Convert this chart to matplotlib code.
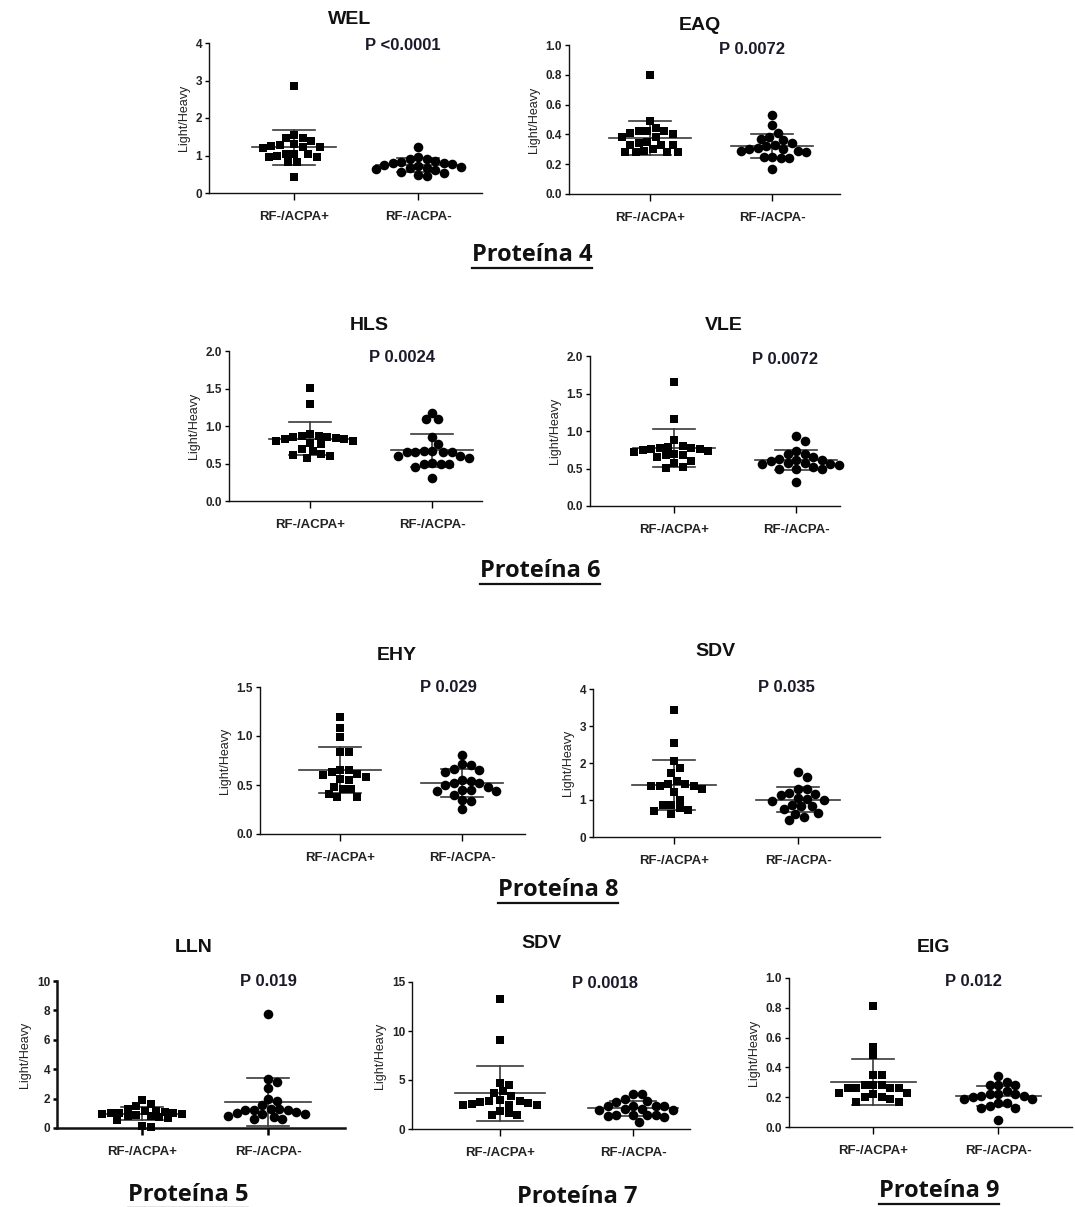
import matplotlib
matplotlib.use("Agg")
import matplotlib.pyplot as plt
import numpy as np

plt.rcParams["font.family"] = ["Liberation Sans", "DejaVu Sans"]

W, H = 1075, 1207
groups = ["RF-/ACPA+", "RF-/ACPA-"]

# ─── Data (Light/Heavy ratios) ───────────────────────────────────────────────
wel_pos = [2.86, 1.56, 1.47, 1.38, 1.46, 1.28, 1.25, 1.23, 1.30, 1.20,
           1.24, 1.05, 1.04, 0.96, 0.96, 1.00, 1.05, 0.83, 0.83, 0.43]
wel_neg = [1.23, 0.95, 0.92, 0.90, 0.85, 0.82, 0.80, 0.80, 0.78, 0.75,
           0.72, 0.70, 0.68, 0.66, 0.64, 0.62, 0.55, 0.53, 0.47, 0.45]

eaq_pos = [0.80, 0.49, 0.44, 0.42, 0.42, 0.42, 0.41, 0.40, 0.38, 0.38, 0.35,
           0.34, 0.33, 0.33, 0.33, 0.30, 0.29, 0.28, 0.28, 0.28, 0.28]
eaq_neg = [0.53, 0.46, 0.41, 0.38, 0.37, 0.36, 0.34, 0.33, 0.32, 0.31,
           0.30, 0.30, 0.29, 0.29, 0.28, 0.25, 0.25, 0.24, 0.24, 0.17]

hls_pos = [1.51, 1.29, 0.90, 0.87, 0.87, 0.86, 0.86, 0.84, 0.83, 0.83,
           0.80, 0.80, 0.78, 0.76, 0.70, 0.67, 0.63, 0.62, 0.58, 0.60]
hls_neg = [1.18, 1.09, 1.09, 0.85, 0.76, 0.67, 0.67, 0.66, 0.66, 0.65,
           0.65, 0.60, 0.60, 0.58, 0.51, 0.50, 0.50, 0.49, 0.46, 0.31]

vle_pos = [1.66, 1.16, 0.88, 0.80, 0.79, 0.77, 0.77, 0.76, 0.76, 0.75,
           0.74, 0.72, 0.70, 0.68, 0.68, 0.66, 0.60, 0.57, 0.52, 0.51]
vle_neg = [0.93, 0.87, 0.74, 0.70, 0.70, 0.65, 0.63, 0.62, 0.61, 0.60,
           0.58, 0.57, 0.56, 0.56, 0.55, 0.52, 0.50, 0.50, 0.49, 0.32]

ehy_pos = [1.19, 1.08, 0.99, 0.84, 0.84, 0.65, 0.65, 0.63, 0.61, 0.60,
           0.58, 0.56, 0.55, 0.48, 0.46, 0.46, 0.41, 0.38, 0.38]
ehy_neg = [0.81, 0.71, 0.70, 0.66, 0.65, 0.63, 0.55, 0.54, 0.52, 0.52,
           0.50, 0.48, 0.45, 0.45, 0.44, 0.44, 0.40, 0.35, 0.34, 0.26]

sdv8_pos = [3.42, 2.55, 2.05, 1.86, 1.72, 1.52, 1.43, 1.43, 1.38, 1.38,
            1.38, 1.31, 1.22, 1.01, 0.87, 0.87, 0.78, 0.72, 0.70, 0.63]
sdv8_neg = [1.76, 1.63, 1.31, 1.30, 1.20, 1.16, 1.14, 1.06, 1.04, 1.00,
            0.98, 0.86, 0.85, 0.83, 0.77, 0.66, 0.63, 0.54, 0.45]

lln_pos = [1.92, 1.65, 1.47, 1.30, 1.18, 1.15, 1.10, 1.05, 1.02, 1.00,
           0.98, 0.95, 0.90, 0.85, 0.80, 0.72, 0.70, 0.55, 0.12, 0.05]
lln_neg = [7.74, 3.35, 3.15, 2.71, 1.99, 1.86, 1.54, 1.31, 1.28, 1.25,
           1.22, 1.20, 1.06, 1.03, 0.97, 0.92, 0.79, 0.75, 0.61, 0.58]

sdv7_pos = [13.27, 9.12, 4.69, 4.50, 3.84, 3.67, 3.40, 3.00, 2.90, 2.85,
            2.75, 2.70, 2.60, 2.50, 2.45, 2.40, 1.80, 1.60, 1.45, 1.45]
sdv7_neg = [3.57, 3.57, 3.10, 2.85, 2.80, 2.38, 2.38, 2.38, 2.30, 2.07,
            2.00, 1.97, 1.97, 1.45, 1.42, 1.40, 1.38, 1.36, 1.19, 0.70]

eig_pos = [0.81, 0.54, 0.48, 0.35, 0.35, 0.28, 0.28, 0.28, 0.26, 0.26,
           0.26, 0.26, 0.23, 0.23, 0.22, 0.20, 0.20, 0.19, 0.17, 0.17]
eig_neg = [0.34, 0.30, 0.28, 0.28, 0.28, 0.24, 0.22, 0.22, 0.22, 0.21,
           0.21, 0.20, 0.19, 0.19, 0.16, 0.16, 0.14, 0.13, 0.13, 0.05]

titles = ["WEL", "EAQ", "HLS", "VLE", "EHY", "SDV", "LLN", "SDV", "EIG"]
p_labels = ["P <0.0001", "P 0.0072", "P 0.0024", "P 0.0072", "P 0.029",
            "P 0.035", "P 0.019", "P 0.0018", "P 0.012"]
y_max = [4, 1.0, 2.0, 2.0, 1.5, 4, 10, 15, 1.0]
y_step = [1, 0.2, 0.5, 0.5, 0.5, 1, 2, 5, 0.2]
y_fmt = ["{:.0f}", "{:.1f}", "{:.1f}", "{:.1f}", "{:.1f}", "{:.0f}", "{:.0f}", "{:.0f}", "{:.1f}"]
series = [(wel_pos, wel_neg), (eaq_pos, eaq_neg), (hls_pos, hls_neg),
          (vle_pos, vle_neg), (ehy_pos, ehy_neg), (sdv8_pos, sdv8_neg),
          (lln_pos, lln_neg), (sdv7_pos, sdv7_neg), (eig_pos, eig_neg)]

section_labels = ["Proteína 4", "Proteína 6", "Proteína 8",
                  "Proteína 5", "Proteína 7", "Proteína 9"]

# ─── Layout in pixels ─────────────────────────────────────────────────────────
# (left, right, bottom, top, x of group 1, x of group 2)
boxes = [
    (209, 482, 193, 43, 294, 418),
    (569, 840, 194, 45, 650, 772),
    (229, 482, 501, 351, 310, 432),
    (590, 840, 506, 356, 674, 796),
    (260, 525, 834, 687, 340, 462),
    (593, 880, 837, 689, 674, 798),
    (57, 345, 1128, 981, 142, 268),
    (412, 690, 1129, 982, 500, 633),
    (789, 1072, 1127, 978, 873, 998),
]
title_xy = [(350, 20), (700, 25), (369, 325), (724, 326), (397, 655),
            (715, 652), (194, 947), (541, 943), (934, 948)]
p_xy = [(403, 45), (752, 50), (402, 357), (785, 360), (448, 688),
        (786, 688), (268, 981), (605, 983), (973, 981)]
section_xy = [(532, 255), (540, 571), (558, 890), (188, 1195), (577, 1197), (939, 1191)]
section_underline = [True, True, True, True, False, True]


def fx(x):
    return x / W


def fy(y):
    return 1 - y / H


def swarm_offsets(values, px_per_unit, d, max_off=44.0):
    """Greedy beeswarm with a width cap: horizontal offsets in pixels."""
    vals = np.asarray(values, dtype=float)
    order = np.argsort(-vals)
    placed = []
    offs = np.zeros(len(vals))
    steps = [0.0]
    k = 1
    while k * d / 3.0 <= max_off:
        steps += [k * d / 3.0, -k * d / 3.0]
        k += 1
    for i in order:
        y = vals[i] * px_per_unit
        best, best_gap = 0.0, -1.0
        for c in steps:
            gap = min([np.hypot(c - px, y - py) for px, py in placed] or [1e9])
            if gap >= d:
                best = c
                break
            if gap > best_gap:
                best, best_gap = c, gap
        offs[i] = best
        placed.append((best, y))
    return offs


fig = plt.figure(figsize=(W / 100, H / 100), dpi=100)

for n, (box, (pos, neg)) in enumerate(zip(boxes, series)):
    left, right, bottom, top, c1, c2 = box
    ax = fig.add_axes([fx(left), fy(bottom), (right - left) / W, (bottom - top) / H])
    sp = c2 - c1
    ax.set_xlim((left - c1) / sp, (right - c1) / sp)
    ax.set_ylim(0, y_max[n])
    px_per_unit = (bottom - top) / y_max[n]

    for g, (vals, marker, s) in enumerate([(pos, "s", 40), (neg, "o", 48)]):
        vals = np.asarray(vals)
        offs = swarm_offsets(vals, px_per_unit, 8.5) / sp
        ax.scatter(g + offs, vals, marker=marker, s=s, color="black",
                   linewidths=0, zorder=3, clip_on=False)
        m, sd = vals.mean(), vals.std(ddof=1)
        ax.plot([g - 0.34, g + 0.34], [m, m], color="#3a3a3a", lw=1.2, zorder=2)
        ax.plot([g, g], [m - sd, m + sd], color="#3a3a3a", lw=1.2, zorder=2)
        for e in (m - sd, m + sd):
            ax.plot([g - 0.17, g + 0.17], [e, e], color="#3a3a3a", lw=1.2, zorder=2)

    lw = 1.8 if n == 6 else 1.0
    for side in ("top", "right"):
        ax.spines[side].set_visible(False)
    for side in ("left", "bottom"):
        ax.spines[side].set_linewidth(lw)
        ax.spines[side].set_color("#111111")

    ticks = np.arange(0, y_max[n] + 1e-9, y_step[n])
    ax.set_yticks(ticks)
    ax.set_yticklabels([y_fmt[n].format(t) for t in ticks])
    ax.set_xticks([0, 1])
    ax.set_xticklabels(groups)
    ax.tick_params(axis="y", length=3, width=lw, pad=2, labelsize=8.5)
    ax.tick_params(axis="x", length=5, width=lw, pad=8, labelsize=9.5)
    for lab in ax.get_xticklabels() + ax.get_yticklabels():
        lab.set_fontweight("bold")
        lab.set_color("#222222")
    ax.set_ylabel("Light/Heavy", fontsize=9, labelpad=4, color="#222222")
    ax.patch.set_alpha(0)

    tx, ty = title_xy[n]
    fig.text(fx(tx), fy(ty), titles[n], ha="center", va="center",
             fontsize=14, fontweight="bold", color="#111111")
    px_, py_ = p_xy[n]
    fig.text(fx(px_), fy(py_), p_labels[n], ha="center", va="center",
             fontsize=12, fontweight="bold", color="#1a1a2a")

# ─── Section labels (underlined) ─────────────────────────────────────────────
sec_texts = []
for label, (sx, sy) in zip(section_labels, section_xy):
    t = fig.text(fx(sx), fy(sy), label, ha="center", va="center", fontsize=17,
                 fontweight="bold", color="#111111", family=["Open Sans", "DejaVu Sans"])
    sec_texts.append(t)

fig.canvas.draw()
renderer = fig.canvas.get_renderer()
for t, under in zip(sec_texts, section_underline):
    if not under:
        continue
    bb = t.get_window_extent(renderer)
    yline = bb.y0 - 1
    fig.add_artist(plt.Line2D([bb.x0 / W, bb.x1 / W], [yline / H, yline / H],
                              color="#111111", lw=1.6))

fig.savefig("out.png", dpi=100)
